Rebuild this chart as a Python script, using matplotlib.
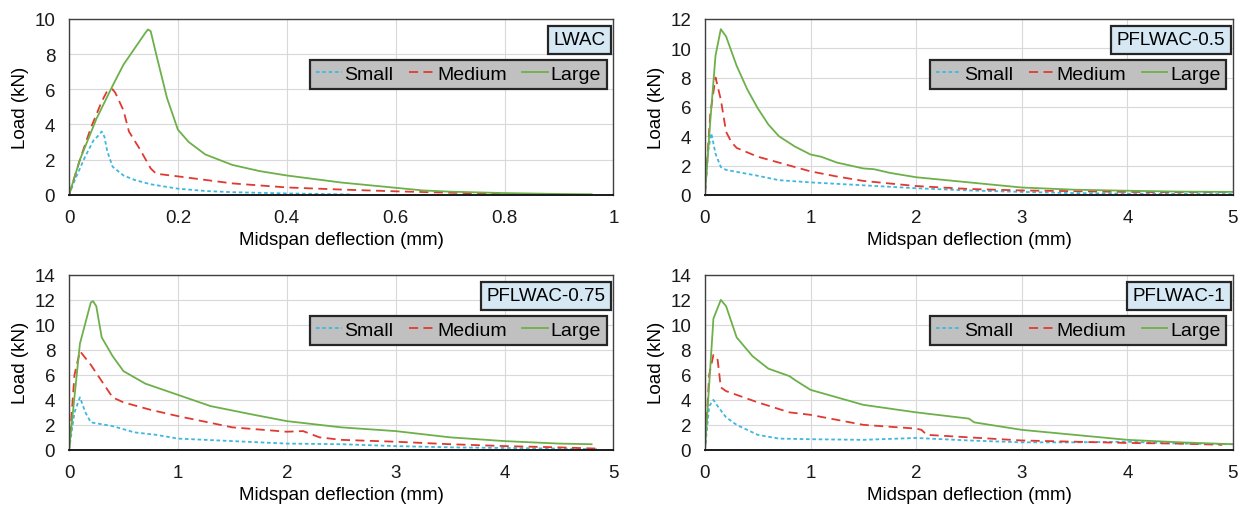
import matplotlib.pyplot as plt
import numpy as np

plt.rcParams['font.family'] = ['Liberation Sans', 'DejaVu Sans']

# ---- data ----
lwac_small_x = [0, 0.01, 0.03, 0.045, 0.055, 0.06, 0.065, 0.07, 0.08, 0.1, 0.12, 0.15, 0.2, 0.25, 0.3, 0.4, 0.5, 0.52]
lwac_small_y = [0, 0.8, 2.2, 3.1, 3.4, 3.6, 3.3, 2.5, 1.6, 1.1, 0.85, 0.6, 0.35, 0.22, 0.15, 0.08, 0.03, 0.02]
lwac_med_x = [0, 0.02, 0.04, 0.06, 0.07, 0.08, 0.085, 0.1, 0.11, 0.13, 0.15, 0.16, 0.2, 0.25, 0.3, 0.4, 0.5, 0.6, 0.7, 0.8, 0.85]
lwac_med_y = [0, 2.0, 3.8, 5.3, 5.9, 6.0, 5.8, 4.8, 3.6, 2.6, 1.5, 1.2, 1.05, 0.85, 0.65, 0.42, 0.3, 0.2, 0.12, 0.05, 0.02]
lwac_large_x = [0, 0.02, 0.05, 0.08, 0.1, 0.12, 0.14, 0.145, 0.15, 0.16, 0.18, 0.2, 0.22, 0.25, 0.3, 0.35, 0.4, 0.5, 0.6, 0.65, 0.7, 0.8, 0.9, 0.96]
lwac_large_y = [0, 2.0, 4.3, 6.2, 7.4, 8.3, 9.2, 9.4, 9.3, 8.0, 5.5, 3.7, 3.0, 2.3, 1.7, 1.35, 1.1, 0.7, 0.4, 0.25, 0.18, 0.1, 0.05, 0.03]

p05_small_x = [0, 0.03, 0.06, 0.1, 0.15, 0.2, 0.5, 0.7, 1.0, 1.5, 2.0, 2.5, 3.0, 3.5, 4.0, 4.5, 5.0]
p05_small_y = [0, 3.0, 4.2, 2.8, 1.9, 1.7, 1.3, 1.0, 0.85, 0.65, 0.45, 0.3, 0.2, 0.12, 0.08, 0.06, 0.05]
p05_med_x = [0, 0.05, 0.1, 0.15, 0.2, 0.25, 0.3, 0.5, 0.75, 1.0, 1.25, 1.5, 2.0, 2.5, 3.0, 3.5, 4.0, 4.5, 5.0]
p05_med_y = [0, 5.5, 8.0, 6.5, 4.3, 3.6, 3.2, 2.6, 2.1, 1.6, 1.25, 0.95, 0.6, 0.4, 0.3, 0.25, 0.2, 0.18, 0.2]
p05_large_x = [0, 0.05, 0.1, 0.15, 0.2, 0.25, 0.3, 0.4, 0.5, 0.6, 0.7, 0.85, 1.0, 1.1, 1.25, 1.5, 1.6, 1.75, 2.0, 2.5, 3.0, 3.5, 4.0, 4.5, 5.0]
p05_large_y = [0, 5.0, 9.5, 11.3, 10.8, 9.8, 8.8, 7.2, 5.9, 4.8, 4.0, 3.3, 2.75, 2.6, 2.2, 1.8, 1.75, 1.5, 1.2, 0.85, 0.5, 0.35, 0.28, 0.22, 0.2]

p075_small_x = [0, 0.05, 0.1, 0.15, 0.2, 0.4, 0.6, 0.8, 1.0, 1.5, 2.0, 2.5, 3.0, 3.5, 4.0, 4.5, 4.85]
p075_small_y = [0, 3.0, 4.2, 3.0, 2.2, 1.9, 1.4, 1.2, 0.9, 0.7, 0.5, 0.45, 0.3, 0.2, 0.15, 0.1, 0.05]
p075_med_x = [0, 0.05, 0.1, 0.2, 0.3, 0.4, 0.5, 0.75, 1.0, 1.5, 2.0, 2.15, 2.3, 2.5, 3.0, 3.5, 4.0, 4.5, 4.85]
p075_med_y = [0, 6.0, 7.9, 6.8, 5.5, 4.2, 3.8, 3.2, 2.7, 1.8, 1.45, 1.5, 1.0, 0.8, 0.65, 0.45, 0.3, 0.2, 0.1]
p075_large_x = [0, 0.1, 0.2, 0.22, 0.25, 0.3, 0.4, 0.5, 0.7, 1.0, 1.3, 1.7, 2.0, 2.5, 3.0, 3.5, 4.0, 4.5, 4.8]
p075_large_y = [0, 8.5, 11.8, 11.9, 11.5, 9.0, 7.5, 6.3, 5.3, 4.4, 3.5, 2.8, 2.3, 1.8, 1.5, 1.0, 0.7, 0.5, 0.45]

p1_small_x = [0, 0.04, 0.08, 0.12, 0.2, 0.3, 0.5, 0.7, 1.0, 1.5, 2.0, 2.5, 3.0, 3.5, 4.0, 4.5, 5.0]
p1_small_y = [0, 3.5, 4.0, 3.5, 2.6, 2.0, 1.2, 0.9, 0.85, 0.8, 0.95, 0.75, 0.6, 0.6, 0.65, 0.5, 0.45]
p1_med_x = [0, 0.04, 0.08, 0.12, 0.15, 0.2, 0.5, 0.8, 1.0, 1.5, 2.0, 2.05, 2.1, 2.5, 3.0, 3.5, 4.0, 4.5, 4.9]
p1_med_y = [0, 6.0, 7.6, 7.2, 5.0, 4.7, 3.8, 3.0, 2.8, 2.0, 1.7, 1.6, 1.2, 1.0, 0.75, 0.65, 0.55, 0.5, 0.4]
p1_large_x = [0, 0.08, 0.15, 0.2, 0.3, 0.45, 0.6, 0.8, 0.85, 1.0, 1.5, 2.0, 2.5, 2.55, 3.0, 3.5, 4.0, 4.5, 5.0]
p1_large_y = [0, 10.5, 12.0, 11.5, 9.0, 7.5, 6.5, 5.9, 5.6, 4.8, 3.6, 3.0, 2.5, 2.2, 1.6, 1.2, 0.8, 0.6, 0.45]

series_labels = ['Small', 'Medium', 'Large']
panel_titles = ['LWAC', 'PFLWAC-0.5', 'PFLWAC-0.75', 'PFLWAC-1']
x_limits = [1, 5, 5, 5]
y_limits = [10, 12, 14, 14]

panels = [
    [(lwac_small_x, lwac_small_y), (lwac_med_x, lwac_med_y), (lwac_large_x, lwac_large_y)],
    [(p05_small_x, p05_small_y), (p05_med_x, p05_med_y), (p05_large_x, p05_large_y)],
    [(p075_small_x, p075_small_y), (p075_med_x, p075_med_y), (p075_large_x, p075_large_y)],
    [(p1_small_x, p1_small_y), (p1_med_x, p1_med_y), (p1_large_x, p1_large_y)],
]

colors = ['#3fb8e0', '#e03a30', '#6db04a']
styles = [(0, (2, 1.5)), (0, (5, 3)), '-']

fig = plt.figure(figsize=(12.6, 5.1), dpi=100)
# axes rectangles [left, bottom, width, height]
rects = [
    [0.0548, 0.616, 0.432, 0.345],
    [0.5595, 0.616, 0.419, 0.345],
    [0.0548, 0.116, 0.432, 0.343],
    [0.5595, 0.116, 0.419, 0.343],
]

fs = 13.5
for i, rect in enumerate(rects):
    ax = fig.add_axes(rect)
    for (xs, ys), lab, c, ls in zip(panels[i], series_labels, colors, styles):
        ax.plot(xs, ys, color=c, linestyle=ls, linewidth=1.3, label=lab)
    ax.set_xlim(0, x_limits[i])
    ax.set_ylim(0, y_limits[i])
    ax.set_yticks(np.arange(0, y_limits[i] + 1, 2))
    if x_limits[i] == 1:
        ax.set_xticks([0, 0.2, 0.4, 0.6, 0.8, 1])
        ax.set_xticklabels(['0', '0.2', '0.4', '0.6', '0.8', '1'])
    else:
        ax.set_xticks(range(0, 6))
    ax.grid(True, color='#d9d9d9', linewidth=0.8)
    ax.set_axisbelow(True)
    for sp in ax.spines.values():
        sp.set_color('#404040')
        sp.set_linewidth(1.0)
    ax.spines['bottom'].set_color('#1a1a1a')
    ax.spines['bottom'].set_linewidth(1.4)
    ax.tick_params(length=0, labelsize=fs, colors='#1a1a1a')
    ax.tick_params(axis='x', pad=10)
    ax.tick_params(axis='y', pad=10)
    ax.set_xlabel('Midspan deflection (mm)', fontsize=fs, labelpad=3.5)
    ax.set_ylabel('Load (kN)', fontsize=fs, labelpad=4)

    ax.text(0.985, 0.93, panel_titles[i], transform=ax.transAxes, ha='right', va='top',
            fontsize=fs, bbox=dict(boxstyle='square,pad=0.3', facecolor='#d5e8f4',
                                   edgecolor='#262626', linewidth=1.6))
    leg = ax.legend(loc='upper right', bbox_to_anchor=(0.995, 0.79), ncol=3, fontsize=fs + 0.5,
                    frameon=True, fancybox=False, handlelength=1.3, handletextpad=0.15,
                    columnspacing=0.8, borderpad=0.3, borderaxespad=0.2)
    leg.get_frame().set_facecolor('#c0c0c0')
    leg.get_frame().set_edgecolor('#262626')
    leg.get_frame().set_linewidth(1.6)
    leg.get_frame().set_alpha(1)

fig.savefig('out.png', dpi=100)
